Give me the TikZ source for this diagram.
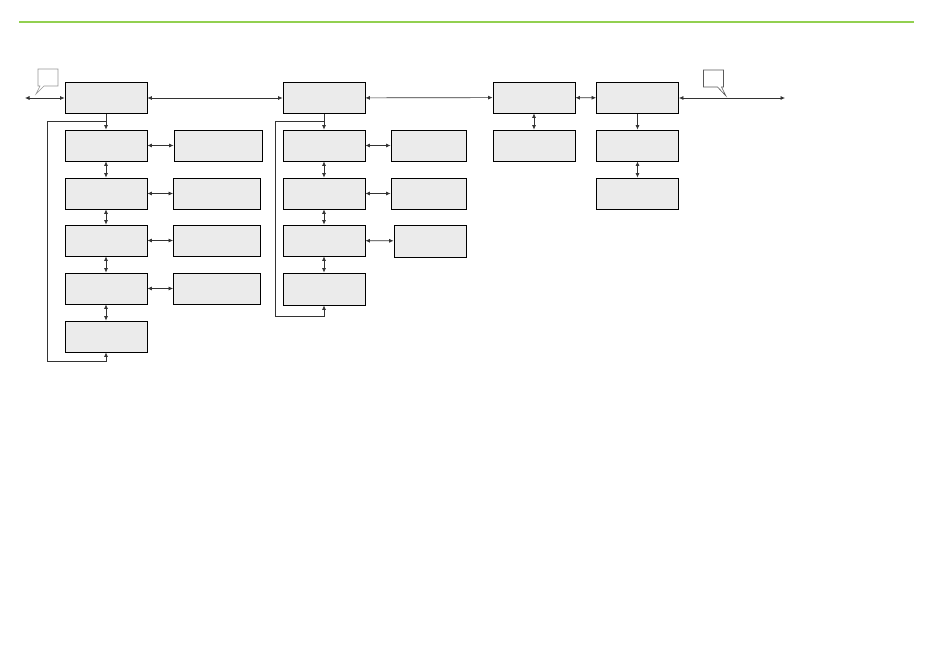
\documentclass[tikz,border=0pt]{standalone}
\usepackage{tikz}
\usetikzlibrary{arrows.meta,calc,shapes.callouts}
\definecolor{leafgreen}{RGB}{146,208,80}
\definecolor{boxgray}{RGB}{235,235,235}
\definecolor{notegray}{RGB}{150,150,150}
\tikzset{
  blk/.style={draw=black,line width=0.8pt,fill=boxgray,inner sep=0pt,minimum width=82pt,minimum height=31pt},
  sideblk/.style={blk,minimum width=87pt},
  smallblk/.style={blk,minimum width=75pt},
  note/.style={rectangle callout,draw=notegray,line width=0.6pt,fill=white,inner sep=0pt,minimum width=20pt,minimum height=17pt,callout pointer width=4pt},
  arr/.style={-{Latex[length=4.5pt,width=4pt]},draw=black!80,line width=0.7pt},
  dbl/.style={{Latex[length=4.5pt,width=4pt]}-{Latex[length=4.5pt,width=4pt]},draw=black!80,line width=0.7pt}
}

\begin{document}
\begin{tikzpicture}[x=1pt,y=-1pt]
  \useasboundingbox (0,0) rectangle (950,655);
  % header rule
  \draw[leafgreen,line width=1.6pt] (19,22) -- (914,22);

  % first column with its side boxes
  \node[blk] (a0) at (106,98) {};
  \node[blk] (a1) at (106,145.5) {};
  \node[blk] (a2) at (106,193.5) {};
  \node[blk] (a3) at (106,240.5) {};
  \node[blk] (a4) at (106,288.5) {};
  \node[blk] (a5) at (106,336.5) {};
  \node[sideblk,minimum width=88pt] (as1) at (218,145.5) {};
  \node[sideblk] (as2) at (217,193.5) {};
  \node[sideblk] (as3) at (217,240.5) {};
  \node[sideblk] (as4) at (217,288.5) {};

  % second column
  \node[blk] (b0) at (324,98) {};
  \node[blk] (b1) at (324,145.5) {};
  \node[blk] (b2) at (324,193.5) {};
  \node[blk] (b3) at (324,240.5) {};
  \node[blk,minimum height=32pt] (b4) at (324,289) {};
  \node[smallblk] (bs1) at (428.5,145.5) {};
  \node[smallblk] (bs2) at (428.5,193.5) {};
  \node[smallblk,minimum width=72pt,minimum height=32pt] (bs3) at (430,241) {};

  % third and fourth columns
  \node[blk] (c0) at (534,97.5) {};
  \node[blk] (c1) at (534,145.5) {};
  \node[blk] (d0) at (637.5,98) {};
  \node[blk] (d1) at (637.5,145.5) {};
  \node[blk] (d2) at (637.5,193.5) {};

  % free ends and loop corners
  \coordinate (inA) at (25,98);
  \coordinate (outD) at (785,98);
  \coordinate (loopA) at (47,361);
  \coordinate (loopB) at (275,316);

  % notes
  \node[note,callout absolute pointer={(36,94)}] (noteL) at (48,77.5) {};
  \node[note,draw=black!65,callout absolute pointer={(726,96)}] (noteR) at (713.5,78.5) {};

  % top row
  \draw[dbl] (inA) -- (a0);
  \draw[dbl] (a0) -- (b0);
  \draw[dbl] (b0) -- (c0);
  \draw[dbl] (c0) -- (d0);
  \draw[dbl] (d0) -- (outD);

  % first column links
  \draw[arr] (a0.south) -- (a1.north);
  \foreach \u/\v in {a1/a2,a2/a3,a3/a4,a4/a5}
    \draw[dbl] (\u) -- (\v);
  \foreach \i in {1,2,3,4}
    \draw[dbl] (a\i) -- (as\i);
  \draw[arr] ($(a0.south)+(0,7)$) -| (loopA) -| (a5.south);

  % second column links
  \draw[arr] (b0.south) -- (b1.north);
  \foreach \u/\v in {b1/b2,b2/b3,b3/b4}
    \draw[dbl] (\u) -- (\v);
  \foreach \i in {1,2,3}
    \draw[dbl] (b\i) -- (bs\i);
  \draw[arr] ($(b0.south)+(0,7)$) -| (loopB) -| (b4.south);

  % right columns links
  \draw[dbl] (c0) -- (c1);
  \draw[arr] (d0) -- (d1);
  \draw[dbl] (d1) -- (d2);
\end{tikzpicture}
\end{document}
